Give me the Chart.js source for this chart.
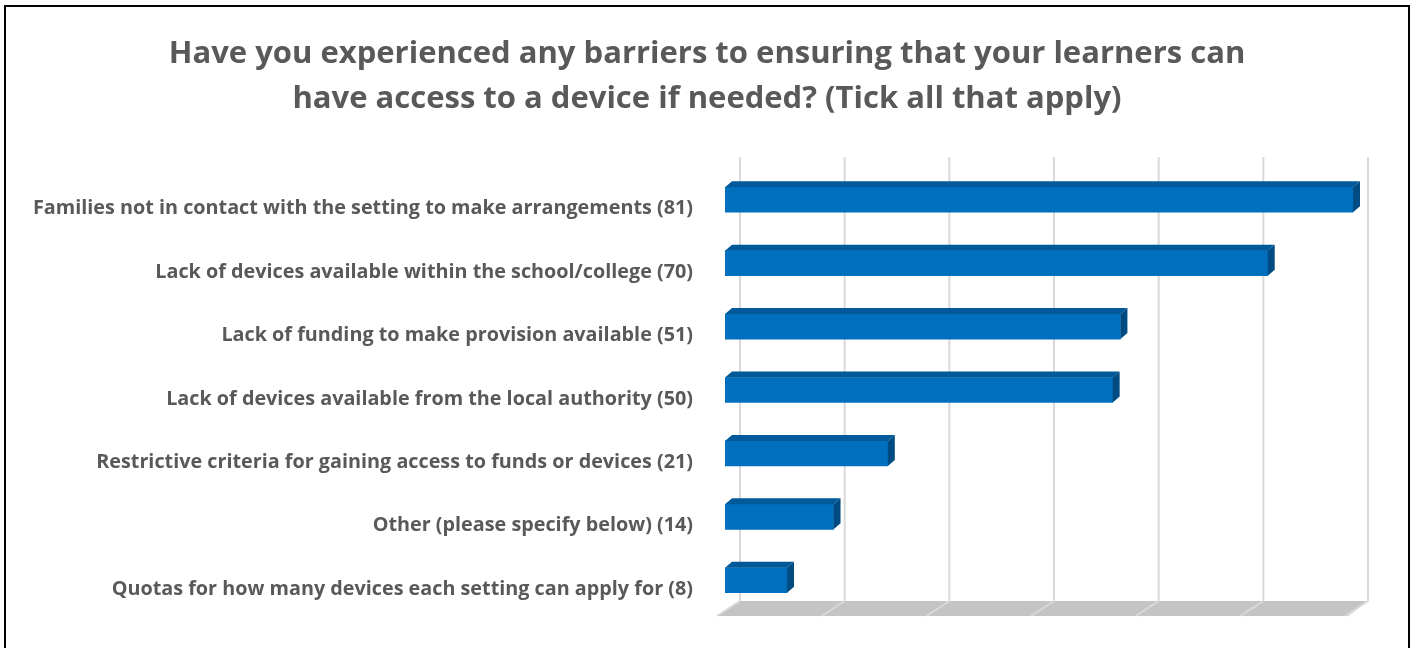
<!DOCTYPE html>
<html>
<head>
<meta charset="utf-8">
<script src="https://cdn.jsdelivr.net/npm/chart.js@4/dist/chart.umd.min.js"></script>
<style>
  html, body { margin: 0; padding: 0; background: #fff; }
  #wrap { position: relative; width: 1414px; height: 648px; }
  #frame { position: absolute; left: 4px; top: 5px; width: 1402px; height: 660px; border: 2px solid #000; pointer-events: none; }
</style>
</head>
<body>
<div id="wrap">
  <canvas id="chart"></canvas>
  <div id="frame"></div>
</div>
<script>
// Datos
const categories = [
  'Families not in contact with the setting to make arrangements (81)',
  'Lack of devices available within the school/college (70)',
  'Lack of funding to make provision available (51)',
  'Lack of devices available from the local authority (50)',
  'Restrictive criteria for gaining access to funds or devices (21)',
  'Other (please specify below) (14)',
  'Quotas for how many devices each setting can apply for (8)'
];
const values = [81, 70, 51, 50, 21, 14, 8];
const axisMax = 81;
const axisStep = 13.5;

const titleLines = [
  'Have you experienced any barriers to ensuring that your learners can',
  'have access to a device if needed? (Tick all that apply)'
];

// Título centrado en todo el lienzo
const titulo = {
  id: 'titulo',
  afterDraw(chart) {
    const { ctx, width } = chart;
    ctx.save();
    ctx.fillStyle = '#595959';
    ctx.font = 'bold 31px "Open Sans"';
    ctx.textAlign = 'center';
    ctx.textBaseline = 'alphabetic';
    titleLines.forEach((line, i) => ctx.fillText(line, width / 2, 63 + i * 45));
    ctx.restore();
  }
};

// Efecto 3D: pared de fondo, suelo y caras de las barras
const depth3d = {
  id: 'depth3d',
  beforeDatasetsDraw(chart) {
    const { ctx, chartArea: a, scales: { x } } = chart;
    const backDx = 15, backDy = -11, frontDx = -8, frontDy = 4;
    ctx.save();
    // suelo
    ctx.fillStyle = '#c4c4c4';
    ctx.beginPath();
    ctx.moveTo(a.left + backDx, a.bottom + backDy);
    ctx.lineTo(a.right + backDx, a.bottom + backDy);
    ctx.lineTo(a.right + frontDx + 3, a.bottom + frontDy);
    ctx.lineTo(a.left + frontDx, a.bottom + frontDy);
    ctx.closePath();
    ctx.fill();
    // rejilla
    ctx.strokeStyle = '#d9d9d9';
    ctx.lineWidth = 2;
    x.ticks.forEach(t => {
      const px = x.getPixelForValue(t.value);
      ctx.beginPath();
      ctx.moveTo(px + backDx, a.top - 11);
      ctx.lineTo(px + backDx, a.bottom + backDy);
      ctx.lineTo(px + frontDx, a.bottom + frontDy);
      ctx.stroke();
    });
    ctx.restore();
  },
  afterDatasetsDraw(chart) {
    const { ctx } = chart;
    const dx = 7, dy = 6;
    ctx.save();
    chart.getDatasetMeta(0).data.forEach(bar => {
      const top = bar.y - bar.height / 2;
      const bottom = bar.y + bar.height / 2;
      ctx.fillStyle = '#005a9a';
      ctx.beginPath();
      ctx.moveTo(bar.base, top);
      ctx.lineTo(bar.base + dx, top - dy);
      ctx.lineTo(bar.x + dx, top - dy);
      ctx.lineTo(bar.x, top);
      ctx.closePath();
      ctx.fill();
      ctx.fillStyle = '#004c82';
      ctx.beginPath();
      ctx.moveTo(bar.x, top);
      ctx.lineTo(bar.x + dx, top - dy);
      ctx.lineTo(bar.x + dx, bottom - dy);
      ctx.lineTo(bar.x, bottom);
      ctx.closePath();
      ctx.fill();
    });
    ctx.restore();
  }
};

new Chart(document.getElementById('chart'), {
  type: 'bar',
  data: {
    labels: categories,
    datasets: [{
      data: values,
      backgroundColor: '#006fbe',
      barThickness: 25,
      borderWidth: 0
    }]
  },
  options: {
    indexAxis: 'y',
    responsive: true,
    maintainAspectRatio: false,
    animation: false,
    layout: { padding: { top: 168, right: 61, bottom: 36, left: 0 } },
    plugins: {
      legend: { display: false },
      tooltip: { enabled: false },
      title: { display: false }
    },
    scales: {
      x: {
        min: 0,
        max: axisMax,
        afterFit(scale) { scale.height = 0; },
        ticks: { display: false, stepSize: axisStep },
        grid: { display: false },
        border: { display: false }
      },
      y: {
        afterFit(scale) { scale.width = 725; },
        grid: { display: false },
        border: { display: false },
        ticks: {
          padding: 24,
          labelOffset: 9,
          color: '#595959',
          font: { family: 'Open Sans', size: 19.8, weight: 'bold' }
        }
      }
    }
  },
  plugins: [depth3d, titulo]
});
</script>
</body>
</html>
